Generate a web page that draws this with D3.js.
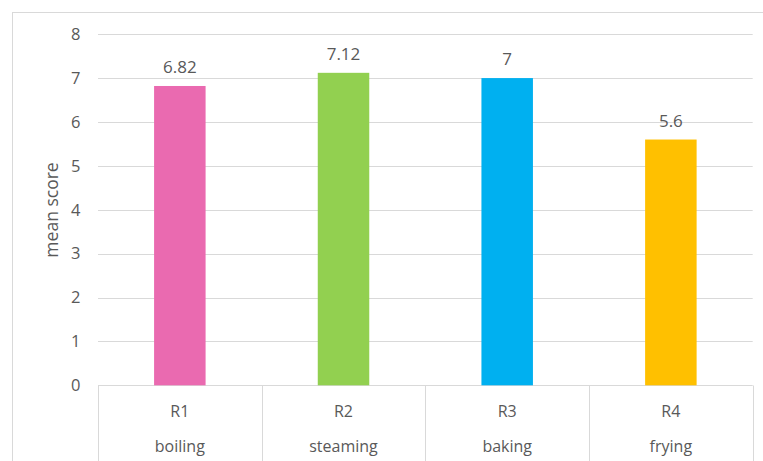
<!DOCTYPE html>
<html>
<head>
<meta charset="utf-8">
<script src="https://cdn.jsdelivr.net/npm/d3@7"></script>
<style>
  html, body { margin: 0; padding: 0; background: #fff; }
  svg { display: block; }
  text { font-family: "Open Sans", "Liberation Sans", sans-serif; fill: #595959; }
</style>
</head>
<body>
<svg id="chart" width="763" height="461"></svg>
<script>
const codes = ["R1", "R2", "R3", "R4"];
const methods = ["boiling", "steaming", "baking", "frying"];
const values = [6.82, 7.12, 7, 5.6];
const valueLabels = ["6.82", "7.12", "7", "5.6"];
const colors = ["#EA6AB0", "#92D050", "#00B0F0", "#FFC000"];
const yTicks = [0, 1, 2, 3, 4, 5, 6, 7, 8];
const yTitle = "mean score";

const W = 763, H = 461;
const svg = d3.select("#chart");
const m = { left: 98 };
const plotRight = 752.7;

// outer frame
svg.append("rect").attr("x", 12.5).attr("y", 12.5).attr("width", 800).attr("height", 500)
  .attr("fill", "none").attr("stroke", "#d9d9d9").attr("stroke-width", 1);

const x = d3.scaleBand().domain(codes).range([m.left, plotRight]).paddingInner(0).paddingOuter(0);
const y = d3.scaleLinear().domain([0, 8]).range([385.3, 34.2]);

// gridlines
svg.append("g").selectAll("line").data(yTicks).join("line")
  .attr("x1", m.left).attr("x2", plotRight)
  .attr("y1", d => Math.round(y(d)) + 0.5).attr("y2", d => Math.round(y(d)) + 0.5)
  .attr("stroke", "#d9d9d9").attr("stroke-width", 1);

// y tick labels
const yAxis = d3.axisLeft(y).tickValues(yTicks).tickSize(0).tickPadding(0);
const ga = svg.append("g").attr("transform", "translate(80.5,0)").call(yAxis);
ga.select(".domain").remove();
ga.selectAll("text").attr("font-size", 16.5).attr("fill", "#595959")
  .style("font-family", '"Open Sans", "Liberation Sans", sans-serif');

// y title
svg.append("text").attr("transform", `translate(57.5,210) rotate(-90)`)
  .attr("text-anchor", "middle").attr("font-size", 17.5).text(yTitle);

// bars
const barW = 51.5;
svg.append("g").selectAll("rect").data(codes).join("rect")
  .attr("x", (d) => x(d) + x.bandwidth() / 2 - barW / 2)
  .attr("width", barW)
  .attr("y", (d, i) => y(values[i]))
  .attr("height", (d, i) => y(0) - y(values[i]))
  .attr("fill", (d, i) => colors[i]);

// value labels
svg.append("g").selectAll("text").data(codes).join("text")
  .attr("x", d => x(d) + x.bandwidth() / 2)
  .attr("y", (d, i) => y(values[i]) - 13)
  .attr("text-anchor", "middle").attr("font-size", 17)
  .text((d, i) => valueLabels[i]);

// category table lines
const bounds = codes.map(d => x(d)).concat([plotRight]);
svg.append("g").selectAll("line").data(bounds).join("line")
  .attr("x1", d => Math.round(d) + 0.5).attr("x2", d => Math.round(d) + 0.5)
  .attr("y1", Math.round(y(0)) + 0.5).attr("y2", H)
  .attr("stroke", "#d9d9d9").attr("stroke-width", 1);

// category labels
svg.append("g").selectAll("text").data(codes).join("text")
  .attr("x", d => x(d) + x.bandwidth() / 2).attr("y", 416.5)
  .attr("text-anchor", "middle").attr("font-size", 16).text(d => d);
svg.append("g").selectAll("text").data(methods).join("text")
  .attr("x", (d, i) => x(codes[i]) + x.bandwidth() / 2).attr("y", 451.5)
  .attr("text-anchor", "middle").attr("font-size", 16).text(d => d);
</script>
</body>
</html>
